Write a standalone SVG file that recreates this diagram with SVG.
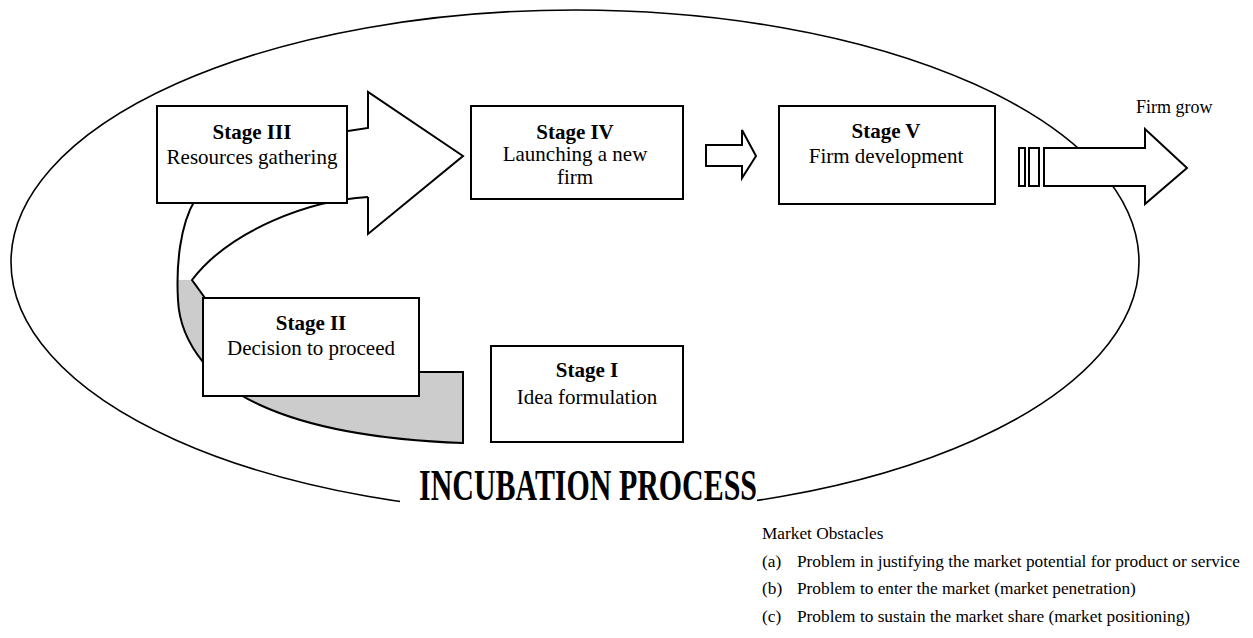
<svg xmlns="http://www.w3.org/2000/svg" width="1253" height="638" viewBox="0 0 1253 638">
<style>
.box{fill:#fff;stroke:#000;stroke-width:2}
.ln{fill:none;stroke:#000;stroke-width:2;stroke-linejoin:miter}
.arr{fill:#fff;stroke:#000;stroke-width:2;stroke-linejoin:miter}
text{font-family:"Liberation Serif","Times New Roman",serif;font-size:21px;fill:#000}
.t{text-anchor:middle}
.b{font-weight:bold}
.s{font-size:17.3px}
</style>
<rect width="1253" height="638" fill="#fff"/>
<g id="incubation-ellipse">
<ellipse cx="575" cy="262" rx="564" ry="252" fill="none" stroke="#000" stroke-width="1.6"/>
</g>
<g id="connectors">
<g id="curved-arrow">
<path d="M178,280 C178,287 178,294 178,300 C180,345 215,385 260,405 C310,428 380,440 463,443 L463,372 L330,372 L205,298 L192,280 Z" fill="#cccccc" stroke="none"/>
<path d="M348,131 L368,128 L368,92 L463,156 L368,234 L368,197 C310,200 230,230 192,280 L179,280 C177,262 180,225 195,200 L200,140 Z" fill="#fff" stroke="none"/>
<path class="ln" d="M195,200 C180,225 176,265 178,300 C180,345 215,385 260,405 C310,428 380,440 463,443 L463,372 L415,372"/>
<path class="ln" d="M368,197 C310,200 230,230 192,280 L205,298"/>
<path class="ln" d="M348,131 L368,128 L368,92 L463,156 L368,234 L368,197"/>
</g>
<path id="arrow-iv-v" class="arr" d="M706,145 L742,145 L742,130 L756,156 L742,178 L742,166 L706,166 Z"/>
<g id="arrow-firm-grow">
<rect class="arr" x="1019" y="148" width="6" height="38"/>
<rect class="arr" x="1029" y="148" width="10" height="38"/>
<path class="arr" d="M1044,148 L1145,148 L1145,129 L1187,168 L1145,204 L1145,186 L1044,186 Z"/>
</g>
</g>
<g id="stage3">
<rect class="box" x="157" y="106" width="190" height="97"/>
<text class="t b" x="252" y="139">Stage III</text>
<text class="t" x="252" y="164">Resources gathering</text>
</g>
<g id="stage4">
<rect class="box" x="471" y="106" width="212" height="93"/>
<text class="t b" x="575" y="139">Stage IV</text>
<text class="t" x="575" y="161">Launching a new</text>
<text class="t" x="575" y="184">firm</text>
</g>
<g id="stage5">
<rect class="box" x="779" y="106" width="216" height="98"/>
<text class="t b" x="886" y="138">Stage V</text>
<text class="t" x="886" y="163">Firm development</text>
</g>
<g id="stage2">
<rect class="box" x="203" y="298" width="216" height="98"/>
<text class="t b" x="311" y="330">Stage II</text>
<text class="t" x="311" y="355">Decision to proceed</text>
</g>
<g id="stage1">
<rect class="box" x="491" y="346" width="192" height="96"/>
<text class="t b" x="587" y="377">Stage I</text>
<text class="t" x="587" y="404">Idea formulation</text>
</g>
<g id="firm-grow-label">
<text x="1136" y="113" style="font-size:18px">Firm grow</text>
</g>
<g id="title">
<rect x="400" y="462" width="357" height="54" fill="#fff"/>
<text x="419" y="500" class="b" style="font-size:44px" textLength="338" lengthAdjust="spacingAndGlyphs">INCUBATION PROCESS</text>
</g>
<g id="obstacles">
<text class="s" x="762" y="539">Market Obstacles</text>
<text class="s" x="762" y="567">(a)</text>
<text class="s" x="797" y="567">Problem in justifying the market potential for product or service</text>
<text class="s" x="762" y="594">(b)</text>
<text class="s" x="797" y="594">Problem to enter the market (market penetration)</text>
<text class="s" x="762" y="622">(c)</text>
<text class="s" x="797" y="622">Problem to sustain the market share (market positioning)</text>
</g>
</svg>
